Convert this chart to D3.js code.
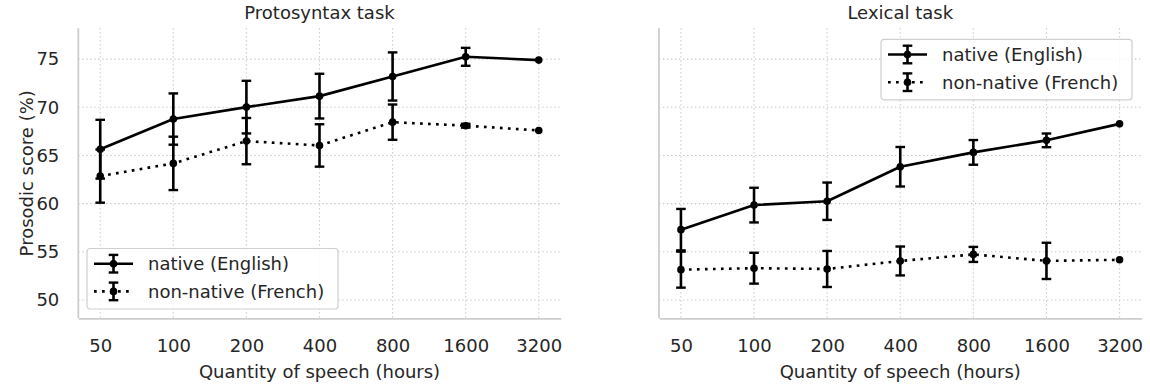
<!DOCTYPE html>
<html>
<head>
<meta charset="utf-8">
<script src="https://cdn.jsdelivr.net/npm/d3@7"></script>
<style>
  html, body { margin: 0; padding: 0; background: #fff; }
  svg { display: block; font-family: "DejaVu Sans", sans-serif; }
</style>
</head>
<body>
<svg id="chart" width="1150" height="385"></svg>
<script>
// ---- data ----
const categories = ["50", "100", "200", "400", "800", "1600", "3200"];
const yTicks = [50, 55, 60, 65, 70, 75];

const protoNative = [65.65, 68.78, 70.02, 71.16, 73.2, 75.24, 74.9];
const protoNativeErr = [3.05, 2.66, 2.73, 2.32, 2.5, 0.93, null];
const protoNonNative = [62.86, 64.18, 66.49, 66.04, 68.46, 68.09, 67.6];
const protoNonNativeErr = [2.76, 2.77, 2.4, 2.2, 1.83, 0.2, null];

const lexNative = [57.3, 59.85, 60.25, 63.83, 65.32, 66.57, 68.28];
const lexNativeErr = [2.15, 1.8, 1.94, 2.05, 1.28, 0.71, null];
const lexNonNative = [53.15, 53.3, 53.22, 54.05, 54.73, 54.06, 54.17];
const lexNonNativeErr = [1.87, 1.6, 1.87, 1.5, 0.78, 1.88, null];

const seriesNames = ["native (English)", "non-native (French)"];
const panelTitles = ["Protosyntax task", "Lexical task"];
const xLabel = "Quantity of speech (hours)";
const yLabel = "Prosodic score (%)";

// ---- layout ----
const svg = d3.select("#chart");
const TEXT = "#262626";
const FS = 18;
const plotTop = 28.3, plotBottom = 318.3;
const panels = [
  { x0: 78.3, x1: 560.7, title: panelTitles[0], native: protoNative, nativeErr: protoNativeErr,
    non: protoNonNative, nonErr: protoNonNativeErr, yLabels: true, legend: "lowerleft" },
  { x0: 659, x1: 1141.5, title: panelTitles[1], native: lexNative, nativeErr: lexNativeErr,
    non: lexNonNative, nonErr: lexNonNativeErr, yLabels: false, legend: "upperright" }
];

const y = d3.scaleLinear().domain([48.1, 78.2]).range([plotBottom, plotTop]);
const styles = [
  { dash: null },
  { dash: "2.7,5.3" }
];

function drawErrorPoint(g, cx, cy, lo, hi) {
  if (lo != null) {
    g.append("line").attr("x1", cx).attr("x2", cx).attr("y1", lo).attr("y2", hi)
      .attr("stroke", "#000").attr("stroke-width", 2.6);
    [lo, hi].forEach(v => g.append("line").attr("x1", cx - 4.8).attr("x2", cx + 4.8)
      .attr("y1", v).attr("y2", v).attr("stroke", "#000").attr("stroke-width", 2.4));
  }
  g.append("circle").attr("cx", cx).attr("cy", cy).attr("r", 3.8).attr("fill", "#000");
}

panels.forEach(p => {
  const x = d3.scalePoint().domain(categories).range([p.x0, p.x1]).padding(0.3);
  const g = svg.append("g");

  // grid
  g.append("g").selectAll("line").data(yTicks).join("line")
    .attr("x1", p.x0).attr("x2", p.x1).attr("y1", d => y(d)).attr("y2", d => y(d))
    .attr("stroke", "#c4c4c4").attr("stroke-width", 1.1).attr("stroke-dasharray", "1.3,2.7");
  g.append("g").selectAll("line").data(categories).join("line")
    .attr("x1", d => x(d)).attr("x2", d => x(d)).attr("y1", plotTop).attr("y2", plotBottom)
    .attr("stroke", "#c4c4c4").attr("stroke-width", 1.1).attr("stroke-dasharray", "1.3,2.7");

  // axes
  const xAxis = g.append("g").attr("transform", `translate(0,${plotBottom})`)
    .call(d3.axisBottom(x).tickSize(0).tickSizeOuter(0).tickPadding(21));
  xAxis.select(".domain").attr("stroke", "#cdcdcd").attr("stroke-width", 1.8);
  xAxis.selectAll("text").attr("font-size", FS).attr("fill", TEXT).attr("font-family", "DejaVu Sans");

  const yAxis = g.append("g").attr("transform", `translate(${p.x0},0)`)
    .call(d3.axisLeft(y).tickValues(yTicks).tickSize(0).tickSizeOuter(0).tickPadding(19)
      .tickFormat(p.yLabels ? d3.format("d") : () => ""));
  yAxis.select(".domain").attr("stroke", "#cdcdcd").attr("stroke-width", 1.8)
    .attr("d", `M0,${plotBottom}V${plotTop}`);
  yAxis.selectAll("text").attr("font-size", FS).attr("fill", TEXT).attr("font-family", "DejaVu Sans");

  // title & labels
  const cx = (p.x0 + p.x1) / 2;
  g.append("text").attr("x", cx).attr("y", 18.7).attr("text-anchor", "middle")
    .attr("font-size", FS).attr("fill", TEXT).text(p.title);
  g.append("text").attr("x", cx).attr("y", 378.3).attr("text-anchor", "middle")
    .attr("font-size", FS).attr("fill", TEXT).text(xLabel);
  if (p.yLabels) {
    g.append("text").attr("transform", `translate(33.3,${(plotTop + plotBottom) / 2}) rotate(-90)`)
      .attr("text-anchor", "middle").attr("font-size", FS).attr("fill", TEXT).text(yLabel);
  }

  // series
  const sets = [[p.native, p.nativeErr], [p.non, p.nonErr]];
  sets.forEach(([vals, errs], si) => {
    const line = d3.line().x((d, i) => x(categories[i])).y(d => y(d));
    const path = g.append("path").datum(vals).attr("d", line).attr("fill", "none")
      .attr("stroke", "#000").attr("stroke-width", 2.6).attr("stroke-linejoin", "round");
    if (styles[si].dash) path.attr("stroke-dasharray", styles[si].dash);
    vals.forEach((v, i) => {
      const e = errs[i];
      drawErrorPoint(g, x(categories[i]), y(v),
        e == null ? null : y(v - e), e == null ? null : y(v + e));
    });
  });

  // legend
  const lw = 251, lh = 60.5;
  let lx, ly;
  if (p.legend === "lowerleft") { lx = p.x0 + 8.7; ly = plotBottom - 9.3 - lh; }
  else { lx = p.x1 - 9.5 - lw; ly = plotTop + 11; }
  const lg = g.append("g").attr("transform", `translate(${lx},${ly})`);
  lg.append("rect").attr("x", 0).attr("y", 0).attr("width", lw).attr("height", lh)
    .attr("rx", 3).attr("fill", "#fff").attr("fill-opacity", 0.85)
    .attr("stroke", "#cfcfcf").attr("stroke-width", 1.2);
  seriesNames.forEach((name, si) => {
    const cy = 15.2 + si * 27.7;
    const hl = lg.append("line").attr("x1", 7).attr("x2", 46).attr("y1", cy).attr("y2", cy)
      .attr("stroke", "#000").attr("stroke-width", 2.6);
    if (styles[si].dash) hl.attr("stroke-dasharray", styles[si].dash);
    drawErrorPoint(lg, 26.5, cy, cy + 8.8, cy - 8.8);
    lg.append("text").attr("x", 61).attr("y", cy + 6.4).attr("font-size", FS)
      .attr("fill", TEXT).text(name);
  });
});
</script>
</body>
</html>
